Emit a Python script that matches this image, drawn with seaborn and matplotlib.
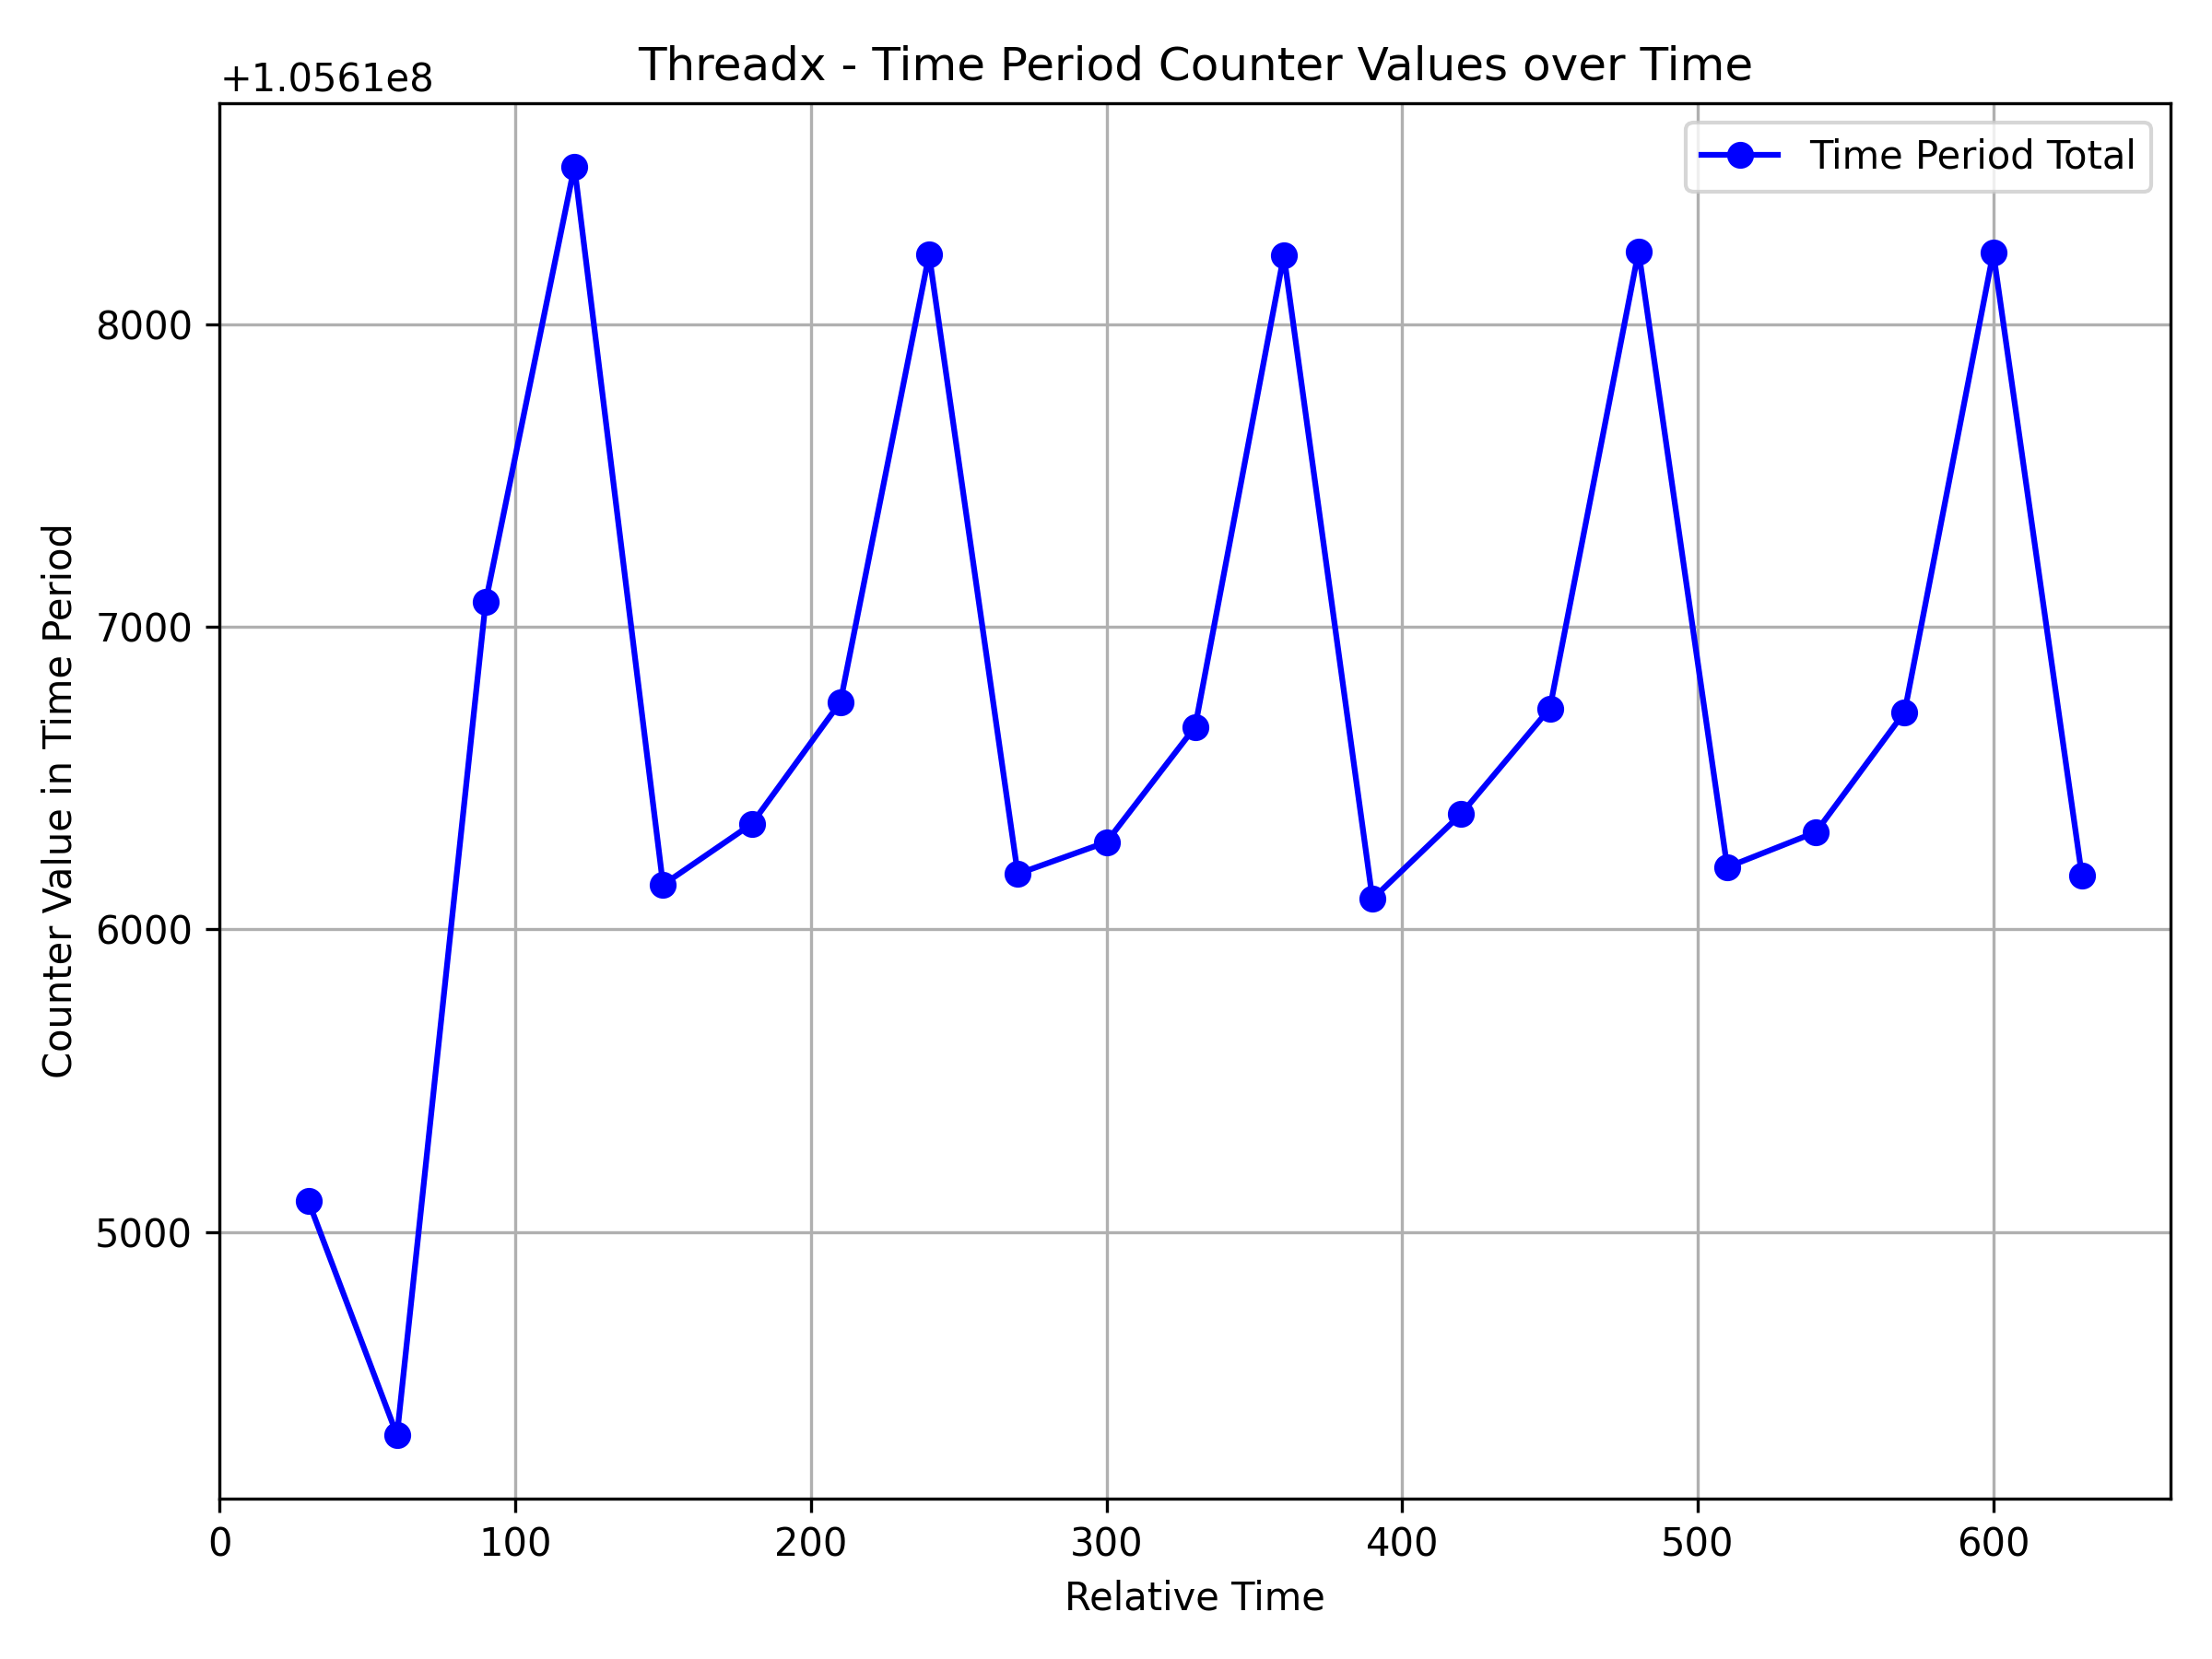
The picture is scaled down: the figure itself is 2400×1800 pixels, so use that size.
import matplotlib
matplotlib.use("Agg")
import matplotlib.pyplot as plt
import seaborn as sns
import pandas as pd

time = [30, 60, 90, 120, 150, 180, 210, 240, 270, 300, 330,
        360, 390, 420, 450, 480, 510, 540, 570, 600, 630]
base = 105610000
offsets = [5102, 4328, 7082, 8521, 6147, 6348, 6751, 8230, 6183, 6288, 6669,
           8228, 6100, 6381, 6730, 8241, 6205, 6321, 6718, 8237, 6176]
values = [base + v for v in offsets]
series_label = "Time Period Total"

df = pd.DataFrame({"Relative Time": time, "Counter": values})

fig, ax = plt.subplots(figsize=(8, 6), dpi=300)
sns.lineplot(data=df, x="Relative Time", y="Counter", ax=ax, color="blue",
             marker="o", markersize=6, markeredgecolor="blue",
             markeredgewidth=1, linewidth=1.5, label=series_label)
ax.set_xlim(0, 660)
ax.grid(True)
ax.set_xlabel("Relative Time")
ax.set_ylabel("Counter Value in Time Period")
ax.set_title("Threadx - Time Period Counter Values over Time")
ax.legend(loc="upper right")
fig.subplots_adjust(left=0.0993, right=0.9813, bottom=0.0967, top=0.9379)
fig.savefig("out.png", dpi=300)
